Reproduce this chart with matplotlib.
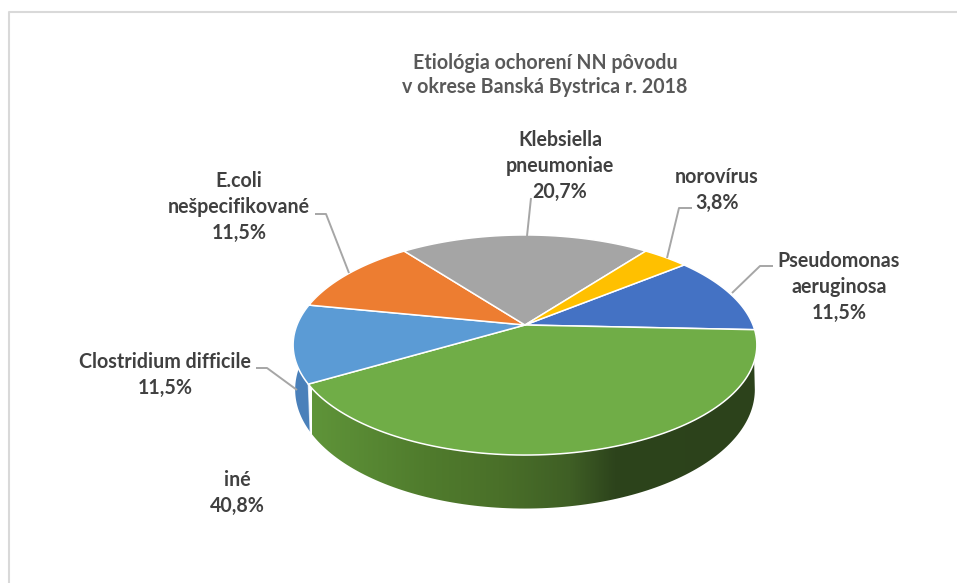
#! /usr/bin/env python
import numpy as np
import matplotlib
matplotlib.use("Agg")
import matplotlib.pyplot as plt
from matplotlib.colors import LinearSegmentedColormap
from matplotlib.patches import Polygon

# clockwise, starting from the blue slice
names = ["Pseudomonas\naeruginosa", "iné", "Clostridium difficile",
         "E.coli\nnešpecifikované", "Klebsiella\npneumoniae", "norovírus"]
values = [11.5, 40.8, 11.5, 11.5, 20.7, 3.8]
value_labels = ["11,5%", "40,8%", "11,5%", "11,5%", "20,7%", "3,8%"]
colors = ["#4472C4", "#70AD47", "#5B9BD5", "#ED7D31", "#A5A5A5", "#FFC000"]

title = "Etiológia ochorení NN pôvodu\nv okrese Banská Bystrica r. 2018"

label_pos = [(839, 287), (237, 493), (165, 375), (239, 207), (560, 166), (717, 190)]
leaders = [
  ([773, 760, 732], [266, 266, 293]),
  ([256, 267, 297], [368, 368, 390]),
  ([315, 326, 349], [214, 214, 273]),
  ([531, 527], [198, 236]),
  ([692, 679, 667], [208, 208, 258]),
]

W, H = 957, 583
CX, CY = 525, 325
START = 38.97
PERSP = 0.1818
TOP_RX, TOP_RY = 228, 106.4
LOW_RX, LOW_RY, LOW_DY = 226, 115, 43
# where the wall silhouette leaves the top rim and meets the lower rim
RIM_OUT, LOW_OUT = 19, 10.5


def top_rim(t):
  s = 1 / (1 + PERSP * np.sin(t))
  return CX + TOP_RX * np.cos(t) * s, CY - TOP_RY * np.sin(t) * s


def low_rim(t):
  s = 1 / (1 + PERSP * np.sin(t))
  return CX + LOW_RX * np.cos(t) * s, CY + LOW_DY - LOW_RY * np.sin(t) * s


def wall(top0, top1, low0, low1):
  x0, y0 = top_rim(np.radians(np.linspace(top0, top1, 120)))
  x1, y1 = low_rim(np.radians(np.linspace(low1, low0, 120)))
  return np.column_stack([np.r_[x0, x1], np.r_[y0, y1]])


plt.rcParams["font.family"] = ["Lato", "DejaVu Sans"]
fig = plt.figure(figsize=(W / 100, H / 100), dpi=100)
ax = fig.add_axes([0, 0, 1, 1])

# slice limits in degrees, going clockwise
frac = np.array(values) / sum(values) * 360
edges = START - np.r_[0, np.cumsum(frac)]

# side walls
green_cmap = LinearSegmentedColormap.from_list("side", [
  (0.0, "#5F9439"), (0.25, "#507C2D"), (0.42, "#4A7029"),
  (0.58, "#3F5F25"), (0.68, "#2D441C"), (1.0, "#2C421B")])
blue_wall = Polygon(wall(-180 - RIM_OUT, edges[2], -180 - LOW_OUT, edges[2]), closed=True,
                    fc="#4A80BA", ec="none", zorder=1)
ax.add_patch(blue_wall)
green_wall = Polygon(wall(edges[2], -RIM_OUT, edges[2], -LOW_OUT), closed=True,
                     fc="none", ec="none", zorder=2)
ax.add_patch(green_wall)
img = ax.imshow(np.linspace(0, 1, 256).reshape(1, -1), cmap=green_cmap, aspect="auto",
                extent=(312, 757, 520, 320), zorder=2)
img.set_clip_path(green_wall)
t = np.radians(edges[2])
ax.plot([top_rim(t)[0], low_rim(t)[0]], [top_rim(t)[1], low_rim(t)[1]],
        color="white", lw=0.9, alpha=0.7, zorder=3)

# top face
for i, c in enumerate(colors):
  t = np.radians(np.linspace(edges[i], edges[i + 1], 100))
  x, y = top_rim(t)
  ax.add_patch(Polygon(np.column_stack([np.r_[CX, x], np.r_[CY, y]]), closed=True,
                       fc=c, ec="white", lw=1.1, joinstyle="round", zorder=4))

# chart frame, only left and top show
ax.plot([9, 9, W], [H, 12, 12], color="#D9D9D9", lw=1.5, zorder=0)

for lx, ly in leaders:
  ax.plot(lx, ly, color="#A6A6A6", lw=1.4, zorder=5, solid_capstyle="butt")

ax.text(545, 75, title, ha="center", va="center", fontsize=14.1, color="#595959",
        fontweight="bold", linespacing=1.3, zorder=6)
for n, v, (x, y) in zip(names, value_labels, label_pos):
  ax.text(x, y, n + "\n" + v, ha="center", va="center", fontsize=14.1, color="#404040",
          fontweight="bold", linespacing=1.36, zorder=6)

ax.set_xlim(0, W)
ax.set_ylim(H, 0)
ax.axis("off")
fig.savefig("out.png", dpi=100)
